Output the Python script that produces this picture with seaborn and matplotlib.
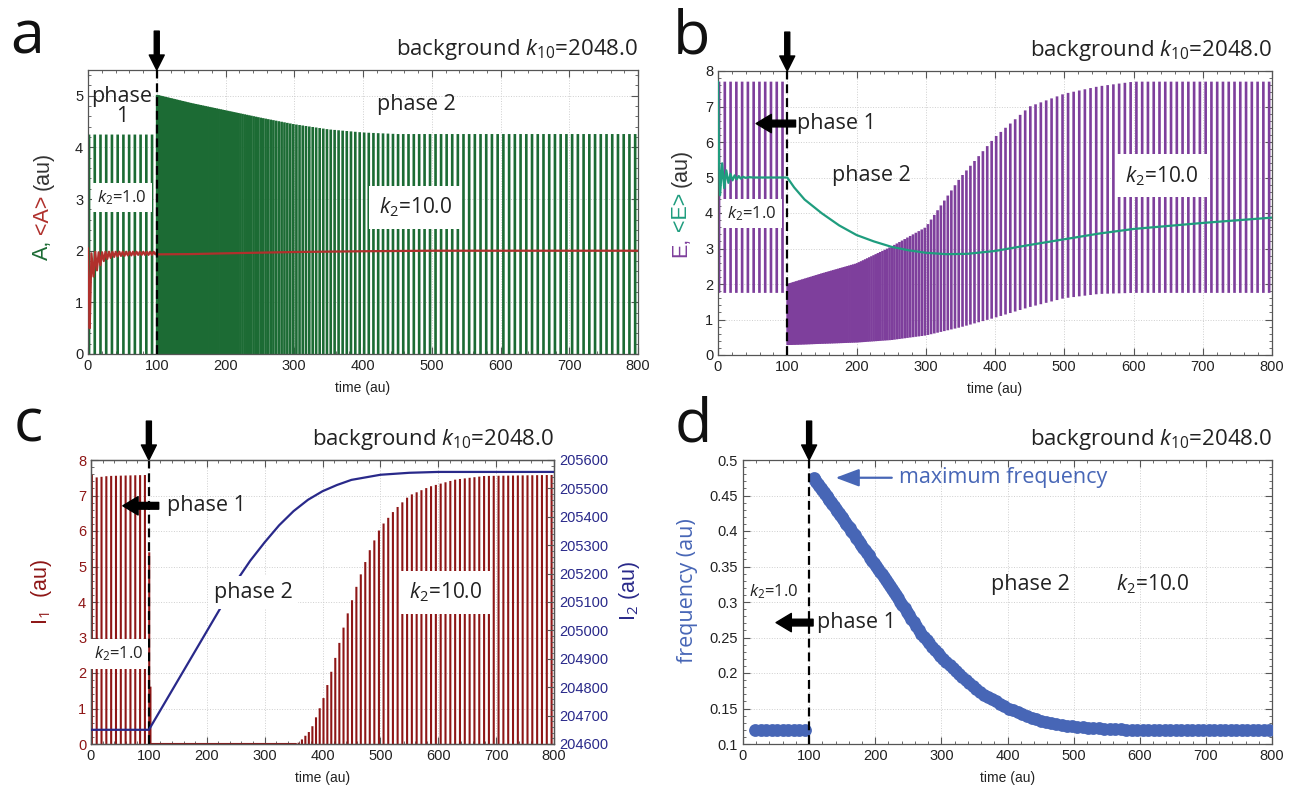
import numpy as np
import matplotlib
matplotlib.use("Agg")
import matplotlib.pyplot as plt
from matplotlib.ticker import MultipleLocator, FormatStrFormatter
import seaborn as sns

# ---------------- data ----------------
# oscillation frequency (panel d), phase 2; phase 1 runs at a constant value
freq_t = [100, 106, 128, 168, 200, 238, 272, 300, 329, 360, 401, 430, 457, 495, 550, 600, 800]
freq_v = [0.476, 0.476, 0.447, 0.395, 0.352, 0.300, 0.252, 0.222, 0.197, 0.172, 0.150,
          0.139, 0.131, 0.125, 0.121, 0.120, 0.120]
freq_phase1 = 0.12
switch_time = 100

# panel a: A oscillation envelope and running mean <A>
a_p1_hi, a_p1_lo = 4.25, 0.0
a_hi_t = [100, 150, 200, 250, 300, 350, 400, 450, 800]
a_hi_v = [5.02, 4.86, 4.72, 4.58, 4.45, 4.35, 4.29, 4.26, 4.26]
a_lo_v = 0.0
a_mean_t = [0, 1, 2.5, 5, 8, 10.5, 13, 15.5, 18, 20.5, 23, 25.5, 28, 30.5, 33, 35.5, 38, 40.5,
            43, 45.5, 48, 50.5, 53, 55.5, 58, 60.5, 63, 65.5, 68, 70.5, 73, 75.5, 78, 80.5,
            83, 85.5, 88, 90.5, 93, 95.5, 98, 100, 101, 150, 200, 300, 400, 500, 800]
a_mean_v = [2.05, 1.4, 0.5, 1.95, 1.5, 1.98, 1.62, 1.97, 1.72, 1.97, 1.8, 1.98, 1.84, 1.98,
            1.86, 1.98, 1.88, 1.98, 1.89, 1.98, 1.9, 1.98, 1.9, 1.98, 1.91, 1.98, 1.91, 1.98,
            1.91, 1.98, 1.92, 1.98, 1.92, 1.98, 1.92, 1.98, 1.92, 1.98, 1.92, 1.98, 1.93, 1.96,
            1.93, 1.935, 1.95, 1.975, 1.99, 2.0, 2.0]

# panel b: E oscillation envelope and running mean <E>
b_p1_hi, b_p1_lo = 7.7, 1.75
b_hi_t = [100, 150, 200, 250, 300, 350, 400, 450, 500, 550, 600, 800]
b_hi_v = [2.0, 2.3, 2.58, 3.05, 3.6, 5.0, 6.14, 7.0, 7.36, 7.57, 7.7, 7.7]
b_lo_t = [100, 200, 250, 300, 350, 400, 450, 500, 550, 600, 800]
b_lo_v = [0.28, 0.35, 0.42, 0.55, 0.78, 1.05, 1.35, 1.6, 1.72, 1.75, 1.75]
b_mean_t = [0, 1.5, 3, 6, 9, 12, 15, 18, 21, 24, 27, 30, 33, 36, 40, 45, 50, 60, 100, 110,
            125, 150, 175, 200, 225, 250, 275, 300, 330, 360, 400, 450, 500, 550, 600, 700, 800]
b_mean_v = [7.7, 5.5, 4.5, 5.4, 4.7, 5.2, 4.85, 5.1, 4.92, 5.06, 4.95, 5.04, 4.97, 5.02,
            4.99, 5.01, 5.0, 5.0, 5.0, 4.72, 4.38, 3.99, 3.65, 3.38, 3.2, 3.05, 2.95, 2.88,
            2.84, 2.85, 2.93, 3.1, 3.26, 3.42, 3.55, 3.72, 3.87]

# panel c: I1 oscillation envelope and I2 level
c_p1_t = [0, 5, 30, 100]
c_p1_v = [7.62, 7.5, 7.55, 7.58]
c_hi_t = [100, 102, 103, 355, 360, 380, 400, 420, 440, 460, 480, 500, 525, 550, 585, 630, 680, 800]
c_hi_v = [5.4, 5.4, 0.0, 0.0, 0.05, 0.4, 1.2, 2.3, 3.5, 4.5, 5.4, 6.1, 6.6, 7.0, 7.25, 7.45, 7.55, 7.58]
c_lo_v = 0.0
i2_t = [0, 100, 250, 275, 300, 325, 350, 375, 400, 425, 450, 500, 550, 600, 800]
i2_v = [204650, 204650, 205170, 205245, 205310, 205370, 205420, 205460, 205490, 205512,
        205530, 205548, 205555, 205558, 205558]

# ---------------- style ----------------
sns.set_theme(style="ticks")
plt.rcParams["font.family"] = ["Liberation Sans", "DejaVu Sans"]
plt.rcParams["mathtext.fontset"] = "custom"
plt.rcParams["mathtext.rm"] = "Open Sans"
plt.rcParams["mathtext.it"] = "Open Sans:italic"

GREEN = "#1c6b34"
RED_A = "#b0302c"
PURPLE = "#7e3f9c"
TEAL = "#1f9d7e"
DRED = "#8e1616"
NAVY = "#29298a"
BLUE = "#4766b6"
FRAME = "#555555"
TXT = "#222222"
ANN = ["Open Sans", "DejaVu Sans"]


def cycle_times(t0, t1, ft, fv):
    # one oscillation cycle per 1/frequency, frequency taken from panel d
    ts = [t0]
    while True:
        t = ts[-1] + 1.0 / np.interp(ts[-1], ft, fv)
        if t > t1:
            break
        ts.append(t)
    return np.array(ts)


cyc1 = cycle_times(1.5, 99.5, [0, 100], [freq_phase1, freq_phase1])
cyc2 = cycle_times(100.6, 800, freq_t, freq_v)

W, H = 1302, 798
fig = plt.figure(figsize=(W / 100, H / 100), dpi=100)


def add_axes(l, t, r, b):
    return fig.add_axes([l / W, 1 - b / H, (r - l) / W, (b - t) / H])


def bars(ax, t, lo, hi, color, lw):
    lc = ax.vlines(t, lo, hi, colors=color, lw=lw, zorder=2)
    lc.set_snap(False)


def style(ax, ymaj, ymin, right=True):
    ax.set_xlim(0, 800)
    ax.xaxis.set_major_locator(MultipleLocator(100))
    ax.xaxis.set_minor_locator(MultipleLocator(20))
    ax.yaxis.set_major_locator(MultipleLocator(ymaj))
    ax.yaxis.set_minor_locator(MultipleLocator(ymin))
    ax.yaxis.set_major_formatter(FormatStrFormatter("%g"))
    ax.tick_params(which="both", direction="in", top=True, right=right,
                   color=FRAME, labelcolor=TXT, labelsize=10.5)
    ax.tick_params(which="major", length=5, width=0.8)
    ax.tick_params(which="minor", length=2.5, width=0.6)
    ax.grid(True, which="major", color="#cfcfcf", ls=":", lw=0.7)
    for s in ax.spines.values():
        s.set_visible(True)
        s.set_color(FRAME)
        s.set_linewidth(0.9)
    ax.set_xlabel("time (au)", fontsize=10, color=TXT, labelpad=6)
    ax.axvline(switch_time, color="black", ls=(0, (4, 2.2)), lw=1.6, zorder=4)
    ax.annotate("", xy=(switch_time, 1), xycoords=ax.get_xaxis_transform(),
                xytext=(0, 28), textcoords="offset points", annotation_clip=False,
                arrowprops=dict(arrowstyle="simple,head_length=0.6,head_width=0.6,tail_width=0.2",
                                fc="black", ec="black", shrinkA=0, shrinkB=0, mutation_scale=18))
    ax.text(1.0, 1 + 15 / 284, r"background $k_{10}$=2048.0", transform=ax.transAxes,
            ha="right", va="baseline", fontsize=16, family=ANN, color=TXT)


def left_arrow(ax, tip, tail, y, transform=None):
    tr = transform if transform is not None else ax.transData
    ax.annotate("", xy=(tip, y), xycoords=tr, xytext=(tail, y), textcoords=tr,
                arrowprops=dict(arrowstyle="simple,head_length=0.5,head_width=0.6,tail_width=0.22",
                                fc="black", ec="black", shrinkA=0, shrinkB=0, mutation_scale=22),
                zorder=6)


def label(ax, x, y, s, size, box=False, transform=None, **kw):
    tr = transform if transform is not None else ax.transData
    bbox = dict(fc="white", ec="none", pad=4) if box else None
    ax.text(x, y, s, transform=tr, fontsize=size, family=ANN, color=TXT,
            bbox=bbox, zorder=5, **kw)


def color_ylabel(ax, pieces, x, y0, size):
    prev = ax.text(x, y0, pieces[0][0], color=pieces[0][1], transform=ax.transAxes,
                   rotation=90, ha="center", va="bottom", fontsize=size)
    for s, c in pieces[1:]:
        prev = ax.annotate(s, xy=(0.5, 1), xycoords=prev, xytext=(0, 4),
                           textcoords="offset points", rotation=90, ha="center",
                           va="bottom", color=c, fontsize=size)


# ---------------- panel a ----------------
ax = add_axes(88, 70, 638, 354)
style(ax, 1, 0.2)
ax.set_ylim(0, 5.5)
bars(ax, cyc1, a_p1_lo, a_p1_hi, GREEN, 1.9)
bars(ax, cyc2, a_lo_v, np.interp(cyc2, a_hi_t, a_hi_v), GREEN, 1.9)
sns.lineplot(x=a_mean_t, y=a_mean_v, ax=ax, color=RED_A, lw=1.6, zorder=3)
color_ylabel(ax, [("A,", GREEN), ("<A>", RED_A), ("(au)", "#333333")], -0.082, 0.33, 15.5)
label(ax, 49, 4.8, "phase\n1", 15.5, ha="center", va="center", linespacing=0.95)
label(ax, 477, 4.83, "phase 2", 15.5, ha="center", va="center")
label(ax, 49, 3.03, r"$k_2$=1.0", 12, box=True, ha="center", va="center")
ax.text(477, 2.84, r"$k_2$=10.0", fontsize=15, family=ANN, color=TXT, ha="center",
        va="center", zorder=5, bbox=dict(fc="white", ec="none", pad=7))

# ---------------- panel b ----------------
ax = add_axes(718, 71, 1272, 355)
style(ax, 1, 0.2)
ax.set_ylim(0, 8)
bars(ax, cyc1, b_p1_lo, b_p1_hi, PURPLE, 1.9)
bars(ax, cyc2, np.interp(cyc2, b_lo_t, b_lo_v), np.interp(cyc2, b_hi_t, b_hi_v), PURPLE, 1.9)
sns.lineplot(x=b_mean_t, y=b_mean_v, ax=ax, color=TEAL, lw=1.6, zorder=3)
color_ylabel(ax, [("E,", PURPLE), ("<E>", TEAL), ("(au)", "#333333")], -0.067, 0.345, 15.5)
left_arrow(ax, 55, 112, 6.52)
label(ax, 114, 6.52, "phase 1", 15.5, ha="left", va="center")
label(ax, 222, 5.07, "phase 2", 15.5, ha="center", va="center")
label(ax, 49, 3.99, r"$k_2$=1.0", 12, box=True, ha="center", va="center")
ax.text(640, 5.05, r"$k_2$=10.0", fontsize=15, family=ANN, color=TXT, ha="center",
        va="center", zorder=5, bbox=dict(fc="white", ec="none", pad=7))

# ---------------- panel c ----------------
ax = add_axes(91, 460, 554, 744)
style(ax, 1, 0.2, right=False)
ax.set_ylim(0, 8)
ax.tick_params(axis="y", labelcolor=DRED)
bars(ax, cyc1, c_lo_v, np.interp(cyc1, c_p1_t, c_p1_v), DRED, 1.5)
bars(ax, cyc2, c_lo_v, np.interp(cyc2, c_hi_t, c_hi_v), DRED, 1.5)
ax.plot(c_hi_t[:4], [c_lo_v] * 4, color=DRED, lw=1.5, zorder=2)
ax.text(-0.106, 0.535, r"I$_1$  (au)", transform=ax.transAxes, rotation=90,
        ha="center", va="center", fontsize=15.5, color=DRED)
ax2 = ax.twinx()
ax2.set_ylim(204600, 205600)
ax2.yaxis.set_major_locator(MultipleLocator(100))
ax2.yaxis.set_minor_locator(MultipleLocator(20))
ax2.yaxis.set_major_formatter(FormatStrFormatter("%g"))
ax2.tick_params(which="both", direction="in", color=FRAME, labelcolor=NAVY, labelsize=10.5)
ax2.tick_params(which="major", length=5, width=0.8)
ax2.tick_params(which="minor", length=2.5, width=0.6)
ax2.grid(False)
for s in ax2.spines.values():
    s.set_color(FRAME)
    s.set_linewidth(0.9)
sns.lineplot(x=i2_t, y=i2_v, ax=ax2, color=NAVY, lw=1.6, zorder=3)
ax2.set_ylabel("")
ax2.text(1.164, 0.54, r"I$_2$ (au)", transform=ax2.transAxes, rotation=90,
         ha="center", va="center", fontsize=15.5, color=NAVY)
left_arrow(ax2, 55, 117, 6.71, transform=ax.transData)
label(ax2, 131, 6.71, "phase 1", 15.5, transform=ax.transData, ha="left", va="center")
label(ax2, 280, 4.27, "phase 2", 15.5, box=True, transform=ax.transData, ha="center", va="center")
label(ax2, 47, 2.54, r"$k_2$=1.0", 12, box=True, transform=ax.transData, ha="center", va="center")
ax2.text(612, 4.27, r"$k_2$=10.0", transform=ax.transData, fontsize=15, family=ANN,
         color=TXT, ha="center", va="center", zorder=5, bbox=dict(fc="white", ec="none", pad=7))

# ---------------- panel d ----------------
ax = add_axes(743, 460, 1272, 744)
style(ax, 0.05, 0.01)
ax.set_ylim(0.1, 0.5)
d_t1 = cyc1[cyc1 >= 18]
d_t2 = cyc2[cyc2 >= 105]
sns.scatterplot(x=d_t1, y=np.full(len(d_t1), freq_phase1), ax=ax, s=85, color=BLUE,
                linewidth=0, legend=False, zorder=3)
sns.scatterplot(x=d_t2, y=np.interp(d_t2, freq_t, freq_v), ax=ax, s=85, color=BLUE,
                linewidth=0, legend=False, zorder=3)
ax.text(-0.104, 0.54, "frequency (au)", transform=ax.transAxes, rotation=90,
        ha="center", va="center", fontsize=15.5, color=BLUE, family=ANN)
ax.annotate("", xy=(140, 0.475), xytext=(225, 0.475),
            arrowprops=dict(arrowstyle="-|>,head_length=0.8,head_width=0.3", color=BLUE,
                            lw=1.6, shrinkA=0, shrinkB=0, mutation_scale=18))
ax.text(236, 0.475, "maximum frequency", fontsize=15.5, family=ANN, color=BLUE,
        ha="left", va="center")
label(ax, 47, 0.315, r"$k_2$=1.0", 12, ha="center", va="center")
left_arrow(ax, 50, 106, 0.271)
label(ax, 112, 0.271, "phase 1", 15.5, ha="left", va="center")
label(ax, 434, 0.325, "phase 2", 15.5, ha="center", va="center")
label(ax, 619, 0.325, r"$k_2$=10.0", 15, ha="center", va="center")

# panel letters
for s, x, y in [("a", 10, 53), ("b", 673, 53), ("c", 14, 442), ("d", 675, 442)]:
    fig.text(x / W, 1 - y / H, s, fontsize=44, family=ANN, color="#111111", va="baseline")

fig.savefig("out.png", dpi=100)
